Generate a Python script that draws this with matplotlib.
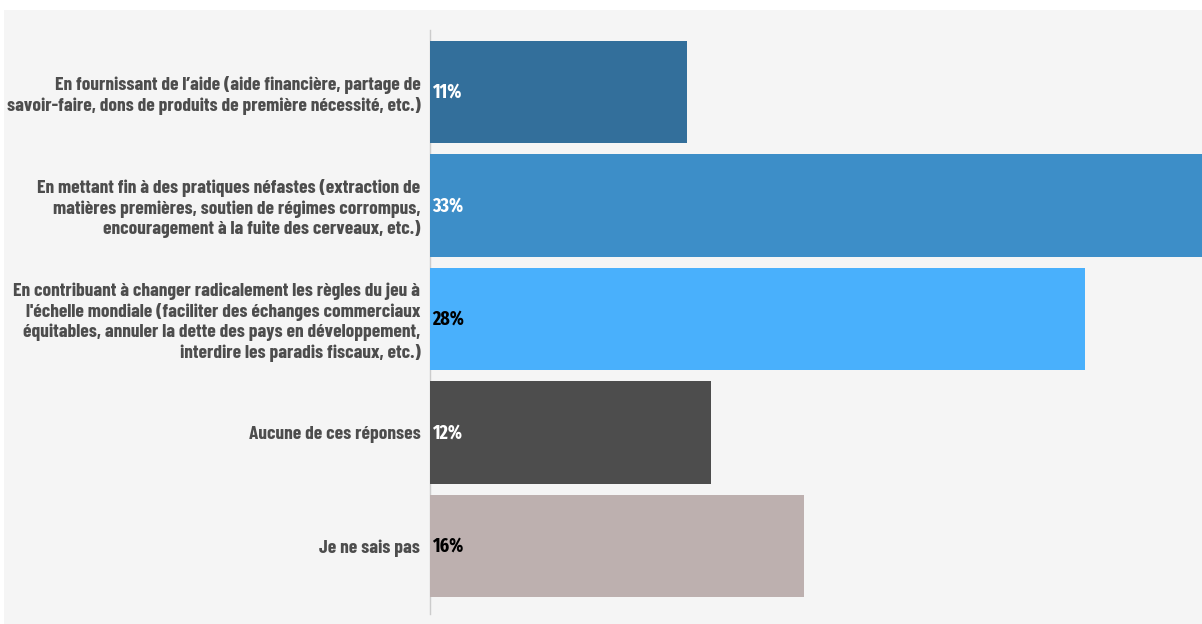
import matplotlib.pyplot as plt
from matplotlib.patches import Rectangle

plt.rcParams['font.family'] = ['Barlow Condensed', 'Roboto Condensed', 'DejaVu Sans']

answers = [
    "En fournissant de l’aide (aide financière, partage de\nsavoir-faire, dons de produits de première nécessité, etc.)",
    "En mettant fin à des pratiques néfastes (extraction de\nmatières premières, soutien de régimes corrompus,\nencouragement à la fuite des cerveaux, etc.)",
    "En contribuant à changer radicalement les règles du jeu à\nl'échelle mondiale (faciliter des échanges commerciaux\néquitables, annuler la dette des pays en développement,\ninterdire les paradis fiscaux, etc.)",
    "Aucune de ces réponses",
    "Je ne sais pas",
]
shares = [11, 33, 28, 12, 16]
bar_colors = ["#336f9b", "#3d8ec8", "#49b0fc", "#4d4d4d", "#bdb0af"]
value_colors = ["white", "white", "black", "white", "black"]

W, H = 1202, 624
fig = plt.figure(figsize=(W / 100, H / 100), dpi=100, facecolor="white")
fig.patches.append(Rectangle((4 / W, 0), 1, (H - 10) / H, transform=fig.transFigure,
                             facecolor="#f5f5f5", edgecolor="none", zorder=-1))

ax = fig.add_axes([430 / W, 10 / H, 1 - 430 / W, 584 / H])
ax.set_facecolor("none")

pos = list(range(len(answers)))
ax.barh(pos, shares, height=0.905, color=bar_colors, zorder=2)

# percentage labels sit just inside the start of each bar
for y, v, c in zip(pos, shares, value_colors):
    ax.annotate(f"{v}%", (0, y), xytext=(1.5, 0), textcoords="offset points",
                ha="left", va="center", fontsize=14, fontweight="bold", color=c, zorder=3,
                family=['Fira Sans Extra Condensed', 'DejaVu Sans'])

ax.set_yticks(pos)
ax.set_yticklabels(answers, fontsize=14, fontweight="bold", color="#4d4d4d",
                   linespacing=1.2)
ax.tick_params(axis="y", length=0, pad=7)
ax.set_xticks([])
ax.set_xlim(0, 33)
ax.set_ylim(4.6, -0.546)

for s in ["top", "right", "bottom"]:
    ax.spines[s].set_visible(False)
ax.spines["left"].set_color("#cccccc")
ax.spines["left"].set_linewidth(1)
ax.spines["left"].set_zorder(1)

fig.savefig("out.png", dpi=100, facecolor=fig.get_facecolor())
